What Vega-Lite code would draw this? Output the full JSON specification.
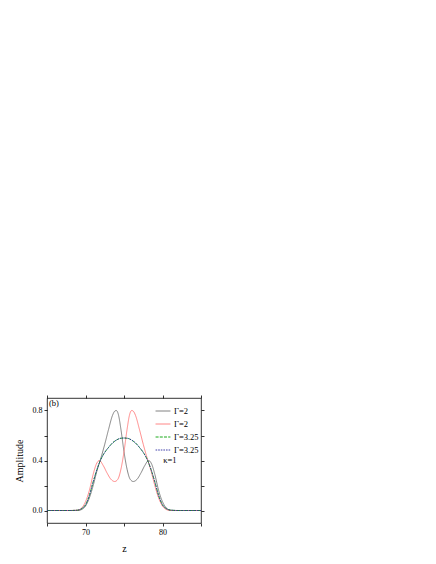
{
  "$schema": "https://vega.github.io/schema/vega-lite/v6.json",
  "width": 154,
  "height": 125,
  "autosize": {"type": "none"},
  "padding": {"left": 47, "top": 398, "right": 235, "bottom": 41},
  "background": "white",
  "config": {
    "view": {"stroke": "black", "strokeWidth": 0.8},
    "font": "Liberation Serif",
    "axis": {
      "grid": false,
      "domain": false,
      "ticks": true,
      "tickColor": "black",
      "tickSize": 3,
      "tickWidth": 0.8,
      "labelFont": "Liberation Serif",
      "labelFontSize": 8,
      "labelColor": "black",
      "labelPadding": 2,
      "titleFont": "Liberation Serif",
      "titleFontSize": 10,
      "titleFontWeight": "normal",
      "titleColor": "black"
    }
  },
  "datasets": {
    "curves": [
      {"series": "a", "z": 65, "amp": 0}, {"series": "a", "z": 68, "amp": 0}, {"series": "a", "z": 69, "amp": 0},
      {"series": "a", "z": 69.5, "amp": 0.008}, {"series": "a", "z": 70, "amp": 0.035}, {"series": "a", "z": 70.5, "amp": 0.1},
      {"series": "a", "z": 71, "amp": 0.2}, {"series": "a", "z": 71.5, "amp": 0.32}, {"series": "a", "z": 72, "amp": 0.42},
      {"series": "a", "z": 72.5, "amp": 0.53}, {"series": "a", "z": 73, "amp": 0.65}, {"series": "a", "z": 73.5, "amp": 0.76},
      {"series": "a", "z": 73.8, "amp": 0.795}, {"series": "a", "z": 74, "amp": 0.8}, {"series": "a", "z": 74.15, "amp": 0.79},
      {"series": "a", "z": 74.3, "amp": 0.76}, {"series": "a", "z": 74.6, "amp": 0.65}, {"series": "a", "z": 75, "amp": 0.47},
      {"series": "a", "z": 75.4, "amp": 0.33}, {"series": "a", "z": 75.8, "amp": 0.25}, {"series": "a", "z": 76.2, "amp": 0.232},
      {"series": "a", "z": 76.7, "amp": 0.25}, {"series": "a", "z": 77.2, "amp": 0.3}, {"series": "a", "z": 77.7, "amp": 0.36},
      {"series": "a", "z": 78.2, "amp": 0.4}, {"series": "a", "z": 78.6, "amp": 0.37}, {"series": "a", "z": 79, "amp": 0.29},
      {"series": "a", "z": 79.5, "amp": 0.16}, {"series": "a", "z": 80, "amp": 0.07}, {"series": "a", "z": 80.5, "amp": 0.02},
      {"series": "a", "z": 81, "amp": 0.003}, {"series": "a", "z": 82, "amp": 0}, {"series": "a", "z": 85, "amp": 0},

      {"series": "b", "z": 65, "amp": 0}, {"series": "b", "z": 68, "amp": 0}, {"series": "b", "z": 69, "amp": 0.003},
      {"series": "b", "z": 69.5, "amp": 0.02}, {"series": "b", "z": 70, "amp": 0.07}, {"series": "b", "z": 70.5, "amp": 0.16},
      {"series": "b", "z": 71, "amp": 0.29}, {"series": "b", "z": 71.4, "amp": 0.37}, {"series": "b", "z": 71.8, "amp": 0.4},
      {"series": "b", "z": 72.3, "amp": 0.36}, {"series": "b", "z": 72.8, "amp": 0.3}, {"series": "b", "z": 73.3, "amp": 0.25},
      {"series": "b", "z": 73.8, "amp": 0.232}, {"series": "b", "z": 74.2, "amp": 0.25}, {"series": "b", "z": 74.6, "amp": 0.33},
      {"series": "b", "z": 75, "amp": 0.47}, {"series": "b", "z": 75.4, "amp": 0.65}, {"series": "b", "z": 75.7, "amp": 0.76},
      {"series": "b", "z": 75.85, "amp": 0.79}, {"series": "b", "z": 76, "amp": 0.8}, {"series": "b", "z": 76.2, "amp": 0.795},
      {"series": "b", "z": 76.5, "amp": 0.76}, {"series": "b", "z": 77, "amp": 0.65}, {"series": "b", "z": 77.5, "amp": 0.53},
      {"series": "b", "z": 78, "amp": 0.42}, {"series": "b", "z": 78.5, "amp": 0.32}, {"series": "b", "z": 79, "amp": 0.2},
      {"series": "b", "z": 79.5, "amp": 0.1}, {"series": "b", "z": 80, "amp": 0.035}, {"series": "b", "z": 80.5, "amp": 0.008},
      {"series": "b", "z": 81, "amp": 0}, {"series": "b", "z": 82, "amp": 0}, {"series": "b", "z": 85, "amp": 0},

      {"series": "c", "z": 65, "amp": 0}, {"series": "c", "z": 68, "amp": 0}, {"series": "c", "z": 69, "amp": 0.003},
      {"series": "c", "z": 69.5, "amp": 0.015}, {"series": "c", "z": 70, "amp": 0.045}, {"series": "c", "z": 70.5, "amp": 0.12},
      {"series": "c", "z": 71, "amp": 0.23}, {"series": "c", "z": 71.5, "amp": 0.33}, {"series": "c", "z": 72, "amp": 0.41},
      {"series": "c", "z": 72.5, "amp": 0.465}, {"series": "c", "z": 73, "amp": 0.505}, {"series": "c", "z": 73.5, "amp": 0.54},
      {"series": "c", "z": 74, "amp": 0.563}, {"series": "c", "z": 74.5, "amp": 0.577}, {"series": "c", "z": 75, "amp": 0.58},
      {"series": "c", "z": 75.5, "amp": 0.577}, {"series": "c", "z": 76, "amp": 0.563}, {"series": "c", "z": 76.5, "amp": 0.54},
      {"series": "c", "z": 77, "amp": 0.505}, {"series": "c", "z": 77.5, "amp": 0.465}, {"series": "c", "z": 78, "amp": 0.41},
      {"series": "c", "z": 78.5, "amp": 0.33}, {"series": "c", "z": 79, "amp": 0.23}, {"series": "c", "z": 79.5, "amp": 0.12},
      {"series": "c", "z": 80, "amp": 0.045}, {"series": "c", "z": 80.5, "amp": 0.015}, {"series": "c", "z": 81, "amp": 0.003},
      {"series": "c", "z": 82, "amp": 0}, {"series": "c", "z": 85, "amp": 0},

      {"series": "d", "z": 65, "amp": 0}, {"series": "d", "z": 68, "amp": 0}, {"series": "d", "z": 69, "amp": 0.003},
      {"series": "d", "z": 69.5, "amp": 0.015}, {"series": "d", "z": 70, "amp": 0.045}, {"series": "d", "z": 70.5, "amp": 0.12},
      {"series": "d", "z": 71, "amp": 0.23}, {"series": "d", "z": 71.5, "amp": 0.33}, {"series": "d", "z": 72, "amp": 0.41},
      {"series": "d", "z": 72.5, "amp": 0.465}, {"series": "d", "z": 73, "amp": 0.505}, {"series": "d", "z": 73.5, "amp": 0.54},
      {"series": "d", "z": 74, "amp": 0.563}, {"series": "d", "z": 74.5, "amp": 0.577}, {"series": "d", "z": 75, "amp": 0.58},
      {"series": "d", "z": 75.5, "amp": 0.577}, {"series": "d", "z": 76, "amp": 0.563}, {"series": "d", "z": 76.5, "amp": 0.54},
      {"series": "d", "z": 77, "amp": 0.505}, {"series": "d", "z": 77.5, "amp": 0.465}, {"series": "d", "z": 78, "amp": 0.41},
      {"series": "d", "z": 78.5, "amp": 0.33}, {"series": "d", "z": 79, "amp": 0.23}, {"series": "d", "z": 79.5, "amp": 0.12},
      {"series": "d", "z": 80, "amp": 0.045}, {"series": "d", "z": 80.5, "amp": 0.015}, {"series": "d", "z": 81, "amp": 0.003},
      {"series": "d", "z": 82, "amp": 0}, {"series": "d", "z": 85, "amp": 0}
    ],
    "notes": [
      {"label": "(b)", "z": 65.25, "amp": 0.86},
      {"label": "κ=1", "z": 80.1, "amp": 0.405}
    ]
  },
  "layer": [
    {
      "data": {"name": "curves"},
      "mark": {"type": "line", "interpolate": "monotone", "strokeWidth": 0.8},
      "encoding": {
        "x": {
          "field": "z", "type": "quantitative",
          "scale": {"domain": [65, 85], "nice": false, "zero": false},
          "axis": {"orient": "bottom", "values": [65, 70, 75, 80, 85],
                   "labelExpr": "datum.value == 70 || datum.value == 80 ? datum.label : ''",
                   "title": "z", "titlePadding": 7}
        },
        "y": {
          "field": "amp", "type": "quantitative",
          "scale": {"domain": [-0.1, 0.9], "nice": false, "zero": false},
          "axis": {"orient": "left", "values": [0, 0.2, 0.4, 0.6, 0.8], "format": ".1f",
                   "labelExpr": "datum.value == 0 || datum.value == 0.4 || datum.value == 0.8 ? datum.label : ''",
                   "title": "Amplitude", "titlePadding": 8}
        },
        "color": {
          "field": "series", "type": "nominal",
          "scale": {"domain": ["a", "b", "c", "d"], "range": ["#666666", "#ff6b6b", "#00a000", "#2a2aa0"]},
          "legend": {
            "title": null, "orient": "none", "legendX": 108, "legendY": 5,
            "symbolType": "stroke", "symbolSize": 220, "symbolStrokeWidth": 0.9,
            "labelFontSize": 8.5, "labelFont": "Liberation Serif", "labelColor": "black",
            "rowPadding": -1.2, "labelOffset": 3,
            "labelExpr": "{'a': 'Γ=2', 'b': 'Γ=2', 'c': 'Γ=3.25', 'd': 'Γ=3.25'}[datum.label]"
          }
        },
        "strokeDash": {
          "field": "series", "type": "nominal",
          "scale": {"domain": ["a", "b", "c", "d"], "range": [[1, 0], [1, 0], [3, 1.2], [1.6, 1]]},
          "legend": {
            "title": null, "orient": "none", "legendX": 108, "legendY": 5,
            "symbolType": "stroke", "symbolSize": 220, "symbolStrokeWidth": 0.9,
            "labelFontSize": 8.5, "labelFont": "Liberation Serif", "labelColor": "black",
            "rowPadding": -1.2, "labelOffset": 3,
            "labelExpr": "{'a': 'Γ=2', 'b': 'Γ=2', 'c': 'Γ=3.25', 'd': 'Γ=3.25'}[datum.label]"
          }
        }
      }
    },
    {
      "data": {"name": "notes"},
      "mark": {"type": "text", "align": "left", "baseline": "middle", "fontSize": 8.5, "font": "Liberation Serif", "color": "black"},
      "encoding": {
        "x": {"field": "z", "type": "quantitative",
              "axis": {"orient": "top", "values": [65, 70, 75, 80, 85], "labels": false, "title": null}},
        "y": {"field": "amp", "type": "quantitative",
              "axis": {"orient": "right", "values": [0, 0.2, 0.4, 0.6, 0.8], "labels": false, "title": null}},
        "text": {"field": "label"}
      }
    }
  ],
  "resolve": {"axis": {"x": "independent", "y": "independent"}}
}
